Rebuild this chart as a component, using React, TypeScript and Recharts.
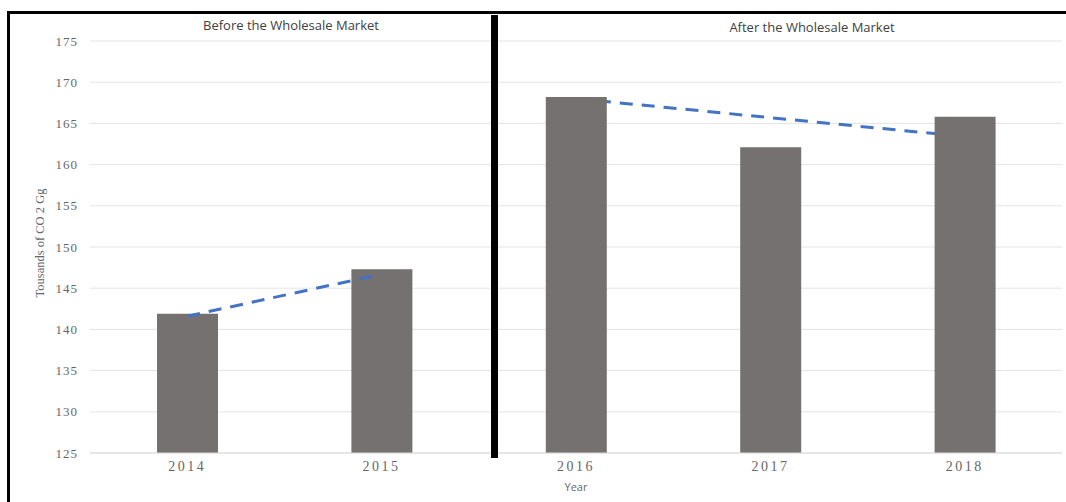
import React from "react";
import { ComposedChart, Bar, Line, XAxis, YAxis, CartesianGrid, Label } from "recharts";

const years = ["2014", "2015", "2016", "2017", "2018"];
const emissions = [141.9, 147.3, 168.2, 162.1, 165.8];
const trendBefore = [141.6, 146.7, null, null, null];
const trendAfter = [null, null, 168.0, 165.7, 163.4];
const yTicks = [125, 130, 135, 140, 145, 150, 155, 160, 165, 170, 175];

const data = years.map((year, i) => ({
    year,
    value: emissions[i],
    before: trendBefore[i],
    after: trendAfter[i],
}));

const sans = "'Open Sans', 'Noto Sans', sans-serif";
const serif = "'Liberation Serif', 'DejaVu Serif', serif";

export default function App() {
    return (
        <div style={{ position: "fixed", left: 0, top: 0, width: 1066, height: 502, background: "#fff", overflow: "hidden" }}>
            {/* outer frame: only left and top edges fall inside the crop */}
            <div style={{ position: "absolute", left: 7, top: 11, width: 1059, height: 491, borderLeft: "3px solid #000", borderTop: "3px solid #000", boxSizing: "border-box" }} />

            <ComposedChart
                width={1066}
                height={502}
                data={data}
                margin={{ top: 41, right: 4, left: 0, bottom: 19 }}
                style={{ position: "absolute", left: 0, top: 0 }}
            >
                <CartesianGrid stroke="#e4e4e4" vertical={false} />
                <XAxis
                    dataKey="year"
                    axisLine={{ stroke: "#dcdcdc" }}
                    tickLine={false}
                    height={30}
                    tick={{ fill: "#666", fontSize: 14, fontFamily: serif, letterSpacing: 2.5 }}
                >
                    <Label
                        content={({ viewBox }: any) => (
                            <text
                                x={viewBox.x + viewBox.width / 2}
                                y={viewBox.y + 38}
                                textAnchor="middle"
                                fontFamily={sans}
                                fontSize={11}
                                fill="#666"
                            >
                                Year
                            </text>
                        )}
                    />
                </XAxis>
                <YAxis
                    domain={[125, 175]}
                    ticks={yTicks}
                    width={90}
                    axisLine={false}
                    tickLine={false}
                    tickMargin={6}
                    interval={0}
                    tick={{ fill: "#666", fontSize: 13, fontFamily: serif, letterSpacing: 1 }}
                >
                    <Label
                        content={({ viewBox }: any) => {
                            const cx = 40;
                            const cy = viewBox.y + viewBox.height / 2 - 4;
                            return (
                                <text
                                    x={cx}
                                    y={cy}
                                    transform={`rotate(-90, ${cx}, ${cy})`}
                                    textAnchor="middle"
                                    dominantBaseline="central"
                                    fontFamily={serif}
                                    fontSize={12.5}
                                    fill="#666"
                                >
                                    Tousands of CO 2 Gg
                                </text>
                            );
                        }}
                    />
                </YAxis>
                <Line
                    dataKey="after"
                    type="linear"
                    stroke="#4472C4"
                    strokeWidth={3}
                    strokeDasharray="13 9"
                    dot={false}
                    activeDot={false}
                    connectNulls={false}
                    isAnimationActive={false}
                    zIndex={250}
                />
                <Bar dataKey="value" fill="#767171" barSize={61} isAnimationActive={false} />
                <Line
                    dataKey="before"
                    type="linear"
                    stroke="#4472C4"
                    strokeWidth={3}
                    strokeDasharray="13 9"
                    dot={false}
                    activeDot={false}
                    connectNulls={false}
                    isAnimationActive={false}
                />
            </ComposedChart>

            {/* divider between the two periods */}
            <div style={{ position: "absolute", left: 491, top: 15, width: 7, height: 443, background: "#000" }} />

            <div style={{ position: "absolute", left: 0, top: 16, width: 582, textAlign: "center", fontFamily: sans, fontSize: 13, color: "#404040" }}>
                Before the Wholesale Market
            </div>
            <div style={{ position: "absolute", left: 612, top: 18, width: 400, textAlign: "center", fontFamily: sans, fontSize: 13, color: "#404040" }}>
                After the Wholesale Market
            </div>
        </div>
    );
}
